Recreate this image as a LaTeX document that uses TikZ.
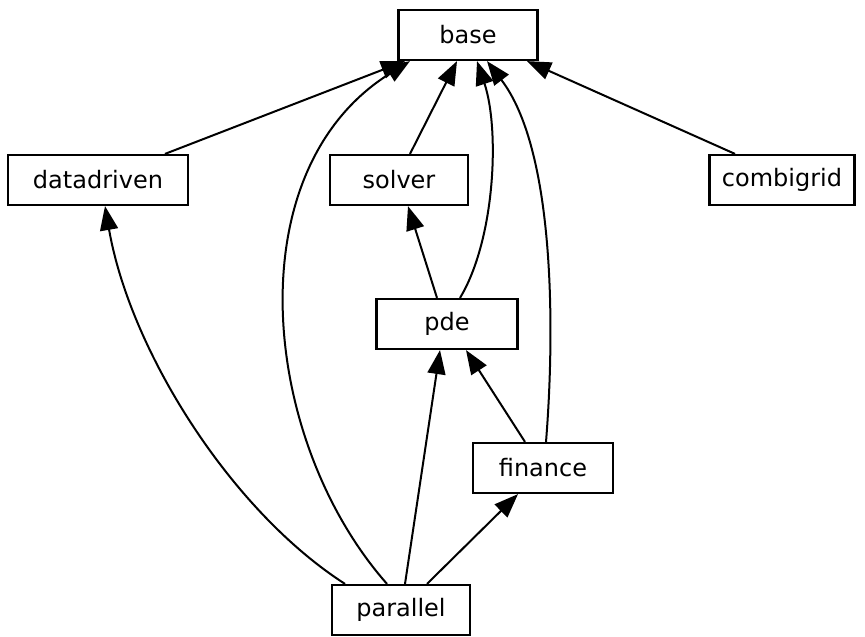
\documentclass[tikz,border=0pt]{standalone}
\usepackage{fontspec}
\setmainfont{DejaVu Sans}
\usetikzlibrary{positioning, arrows.meta}

\begin{document}
\begin{tikzpicture}[
      x=1pt, y=-1pt,
      mod/.style={draw, line width=2.2pt, rectangle, minimum height=50pt, inner sep=0pt, font=\fontsize{24}{29}\selectfont},
      dep/.style={line width=2pt, -{Triangle[width=18pt, length=24pt]}}]

      \useasboundingbox (0,0) rectangle (865,637);

      \node[mod, minimum width=139pt] (base) at (468,35) {base};

      \node[mod, minimum width=180pt] (datadriven) at (98,180) {datadriven}; %
      \node[mod, minimum width=138pt] (solver) at (399,180) {solver};
      \node[mod, minimum width=145pt] (combigrid) at (782,180) {combigrid};

      \node[mod, minimum width=141pt] (pde) at (447,324) {pde}; %
      \node[mod, minimum width=140pt] (finance) at (543,468) {finance};
      \node[mod, minimum width=138pt] (parallel) at (401,610) {parallel};

      \draw[dep] ([xshift=67pt]datadriven.north) -- ([xshift=-63pt]base.south);
      \draw[dep] ([xshift=-14pt]parallel.north) .. controls (260,440) and (235,170) .. ([xshift=-58pt]base.south);
      \draw[dep] ([xshift=11pt]solver.north) -- ([xshift=-11pt]base.south);
      \draw[dep] ([xshift=13pt]pde.north) .. controls (495,240) and (500,130) .. ([xshift=9pt]base.south);
      \draw[dep] ([xshift=3pt]finance.north) .. controls (555,330) and (555,150) .. ([xshift=19pt]base.south);
      \draw[dep] ([xshift=-47pt]combigrid.north) -- ([xshift=59pt]base.south);

      \draw[dep] ([xshift=-10pt]pde.north) -- ([xshift=9pt]solver.south);
      \draw[dep] ([xshift=-56pt]parallel.north) .. controls (230,510) and (130,350) .. ([xshift=7pt]datadriven.south);

      \draw[dep] ([xshift=4pt]parallel.north) -- ([xshift=-7pt]pde.south);
      \draw[dep] ([xshift=-18pt]finance.north) -- ([xshift=19pt]pde.south);
      \draw[dep] ([xshift=26pt]parallel.north) -- ([xshift=-25pt]finance.south);
\end{tikzpicture}
\end{document}
